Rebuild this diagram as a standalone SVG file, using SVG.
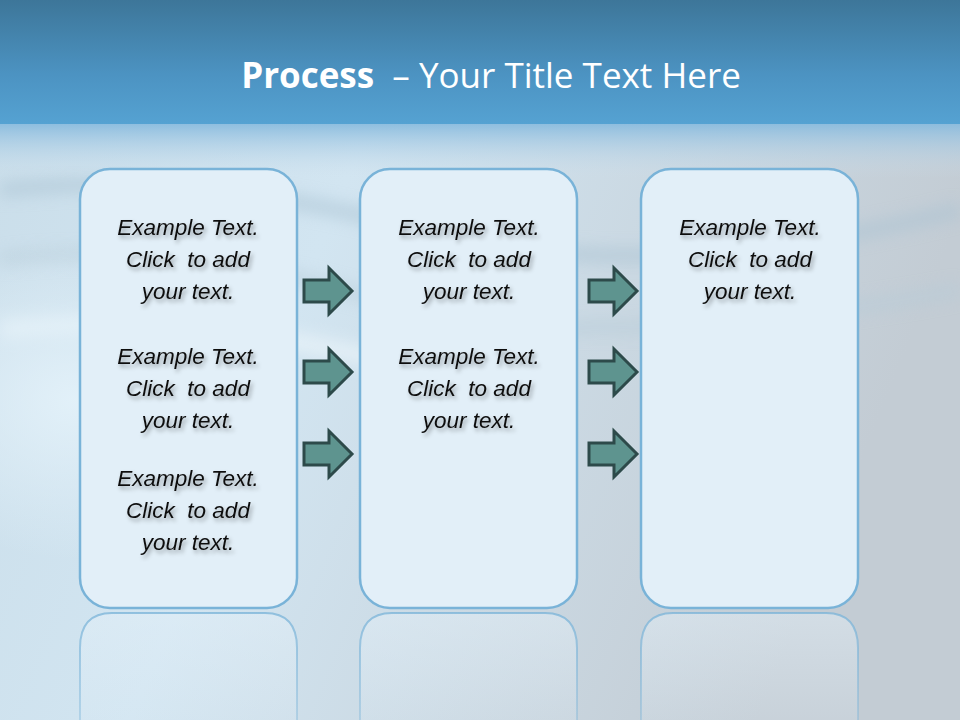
<svg xmlns="http://www.w3.org/2000/svg" width="960" height="720" viewBox="0 0 960 720">
<defs>
<linearGradient id="topband" x1="0" y1="0" x2="0" y2="1">
<stop offset="0" stop-color="#3d7699"/>
<stop offset="0.6" stop-color="#4c93c2"/>
<stop offset="1" stop-color="#55a2d2"/>
</linearGradient>
<linearGradient id="body" x1="0" y1="0" x2="1" y2="0.3">
<stop offset="0" stop-color="#c9dde9"/>
<stop offset="0.4" stop-color="#d2e5f1"/>
<stop offset="1" stop-color="#c3ccd4"/>
</linearGradient>
<linearGradient id="fadeTop" x1="0" y1="0" x2="0" y2="1">
<stop offset="0" stop-color="#7fb6dc" stop-opacity="1"/>
<stop offset="1" stop-color="#cfe0ec" stop-opacity="0"/>
</linearGradient>
<linearGradient id="reflFade" x1="0" y1="0" x2="0" y2="1">
<stop offset="0" stop-color="#e6f2fa" stop-opacity="0.45"/>
<stop offset="1" stop-color="#e6f2fa" stop-opacity="0.1"/>
</linearGradient>
<linearGradient id="reflStroke" x1="0" y1="0" x2="0" y2="1">
<stop offset="0" stop-color="#79b3d8" stop-opacity="0.75"/>
<stop offset="1" stop-color="#79b3d8" stop-opacity="0.3"/>
</linearGradient>
<radialGradient id="glow" cx="0.15" cy="0.5" r="0.4">
<stop offset="0" stop-color="#e4f2fa" stop-opacity="0.9"/>
<stop offset="1" stop-color="#e4f2fa" stop-opacity="0"/>
</radialGradient>
<filter id="shadow" x="-10%" y="-20%" width="130%" height="150%">
<feDropShadow dx="2" dy="3" stdDeviation="2" flood-color="#000" flood-opacity="0.35"/>
</filter>
<filter id="blur"><feGaussianBlur stdDeviation="8"/></filter>
<path id="arrow" d="M0 -11 H25 V-23 L48 0 L25 23 V11 H0 Z"/>
</defs>
<style>
.box{fill:#e2eff8;stroke:#79b3d8;stroke-width:2.5}
.refl{fill:url(#reflFade);stroke:url(#reflStroke);stroke-width:2}
.arr{fill:#5e948f;stroke:#2d4a4a;stroke-width:3;stroke-linejoin:miter}
.t{font-family:"Liberation Sans",Arial,sans-serif;font-style:italic;font-size:22.5px;fill:#111;text-anchor:middle;white-space:pre}
.title{font-family:"Open Sans","Liberation Sans",sans-serif;font-size:35px;fill:#fff;text-anchor:middle;white-space:pre}
</style>
<!-- background -->
<rect width="960" height="720" fill="url(#body)"/>
<g filter="url(#blur)" opacity="0.6">
<path d="M0 190 Q200 170 420 230 T960 210" fill="none" stroke="#aac3d3" stroke-width="14"/>
<path d="M0 260 Q180 240 380 300 T960 290" fill="none" stroke="#b6cbd8" stroke-width="12"/>
<path d="M0 330 Q200 310 420 370" fill="none" stroke="#f0f8fc" stroke-width="18"/>
</g>
<rect x="0" y="200" width="500" height="400" fill="url(#glow)"/>
<rect x="0" y="118" width="960" height="60" fill="url(#fadeTop)"/>
<rect x="0" y="0" width="960" height="124" fill="url(#topband)"/>
<text class="title" x="491" y="88" xml:space="preserve"><tspan font-weight="bold">Process</tspan>  – Your Title Text Here</text>
<!-- reflections -->
<g id="reflections">
<path class="refl" d="M80 740 V648 Q80 613 112 613 H265 Q297 613 297 648 V740"/>
<path class="refl" d="M360 740 V648 Q360 613 392 613 H545 Q577 613 577 648 V740"/>
<path class="refl" d="M641 740 V648 Q641 613 673 613 H826 Q858 613 858 648 V740"/>
</g>
<g id="box1">
<rect class="box" x="80" y="169" width="217" height="439" rx="30"/>
<g filter="url(#shadow)" xml:space="preserve">
<text class="t" x="188" y="235">Example Text.</text>
<text class="t" x="188" y="267">Click  to add</text>
<text class="t" x="188" y="299">your text.</text>
<text class="t" x="188" y="364">Example Text.</text>
<text class="t" x="188" y="396">Click  to add</text>
<text class="t" x="188" y="428">your text.</text>
<text class="t" x="188" y="486">Example Text.</text>
<text class="t" x="188" y="518">Click  to add</text>
<text class="t" x="188" y="550">your text.</text>
</g>
</g>
<g id="box2">
<rect class="box" x="360" y="169" width="217" height="439" rx="30"/>
<g filter="url(#shadow)" xml:space="preserve">
<text class="t" x="469" y="235">Example Text.</text>
<text class="t" x="469" y="267">Click  to add</text>
<text class="t" x="469" y="299">your text.</text>
<text class="t" x="469" y="364">Example Text.</text>
<text class="t" x="469" y="396">Click  to add</text>
<text class="t" x="469" y="428">your text.</text>
</g>
</g>
<g id="box3">
<rect class="box" x="641" y="169" width="217" height="439" rx="30"/>
<g filter="url(#shadow)" xml:space="preserve">
<text class="t" x="750" y="235">Example Text.</text>
<text class="t" x="750" y="267">Click  to add</text>
<text class="t" x="750" y="299">your text.</text>
</g>
</g>
<g id="connectors">
<use href="#arrow" class="arr" x="304" y="291"/>
<use href="#arrow" class="arr" x="304" y="372"/>
<use href="#arrow" class="arr" x="304" y="454"/>
<use href="#arrow" class="arr" x="589" y="291"/>
<use href="#arrow" class="arr" x="589" y="372"/>
<use href="#arrow" class="arr" x="589" y="454"/>
</g>
</svg>
